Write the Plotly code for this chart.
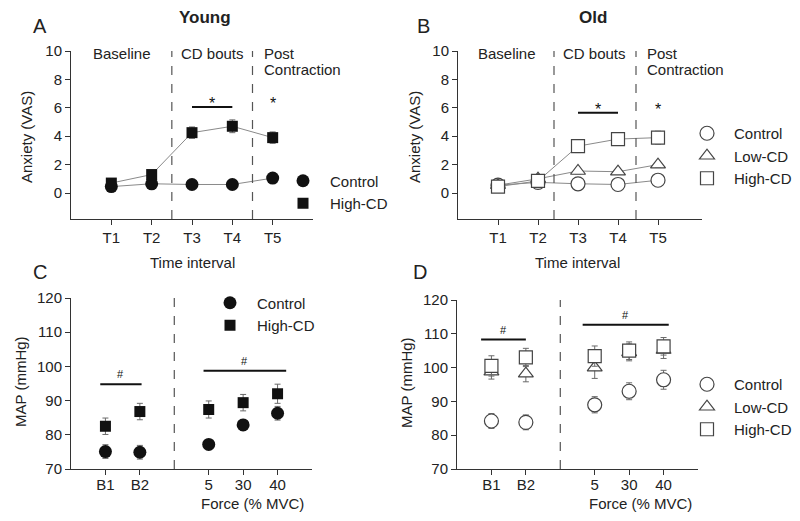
import plotly.graph_objects as go

W, H = 800, 521
FONT = "Arial, Liberation Sans, sans-serif"
INK = "#222222"
GREY_LINE = "#8a8a8a"
ERR = "#6a6a6a"

# ---- Panel A: Young, anxiety ----
T_LABELS = ["T1", "T2", "T3", "T4", "T5"]
T_POS = [1, 2, 3, 4, 5]
young_control = [0.45, 0.65, 0.6, 0.6, 1.05]
young_control_err = [0.15, 0.15, 0.12, 0.12, 0.15]
young_high = [0.7, 1.3, 4.25, 4.7, 3.9]
young_high_err = [0.2, 0.2, 0.4, 0.45, 0.4]

# ---- Panel B: Old, anxiety ----
old_control = [0.55, 0.75, 0.65, 0.6, 0.9]
old_control_err = [0.15, 0.15, 0.12, 0.12, 0.15]
old_low = [0.55, 1.0, 1.55, 1.5, 2.0]
old_low_err = [0.15, 0.2, 0.2, 0.2, 0.2]
old_high = [0.45, 0.85, 3.3, 3.8, 3.9]
old_high_err = [0.15, 0.2, 0.45, 0.35, 0.45]

# ---- Panel C: Young, MAP ----
F_LABELS = ["B1", "B2", "5", "30", "40"]
F_POS = [1, 2, 4, 5, 6]
map_young_control = [75.1, 74.9, 77.2, 82.9, 86.3]
map_young_control_err = [2.0, 2.0, 1.2, 1.6, 2.0]
map_young_high = [82.5, 86.8, 87.4, 89.4, 92.0]
map_young_high_err = [2.4, 2.4, 2.5, 2.4, 2.8]

# ---- Panel D: Old, MAP ----
map_old_control = [84.2, 83.8, 89.0, 93.0, 96.4]
map_old_control_err = [2.2, 2.2, 2.4, 2.5, 2.8]
map_old_low = [98.8, 98.2, 100.0, 104.5, 105.2]
map_old_low_err = [2.2, 2.4, 3.2, 2.5, 2.5]
map_old_high = [100.5, 103.0, 103.4, 105.0, 106.3]
map_old_high_err = [3.0, 2.7, 3.0, 2.6, 2.6]

# significance bars: (x0, x1, y, symbol)
SIG_A = [(3, 4, 6.05, "*")]
SIG_B = [(3, 4, 5.65, "*")]
SIG_C = [(0.85, 2.05, 94.8, "#"), (3.85, 6.25, 98.7, "#")]
SIG_D = [(0.7, 2.0, 108.3, "#"), (3.65, 6.15, 112.7, "#")]
STAR_T5 = [(5, "*")]


def px(x):
    return x / W


def py(y):
    return 1 - y / H


fig = go.Figure()

# panel geometry in pixels: (left, right, top, bottom)
PANELS = {
    "": (71, 313, 51, 219),
    "2": (458, 702, 51, 219),
    "3": (71, 312, 298, 469),
    "4": (457, 698, 300, 469),
}


def add_series(xs, ys, err, ax, symbol, size, filled, name, legend, line=True):
    if line:
        fig.add_trace(go.Scatter(
            x=xs, y=ys, mode="lines", xaxis="x" + ax, yaxis="y" + ax,
            line=dict(color=GREY_LINE, width=1), showlegend=False, hoverinfo="skip",
        ))
    fig.add_trace(go.Scatter(
        x=xs, y=ys, mode="markers", name=name, legend=legend,
        xaxis="x" + ax, yaxis="y" + ax,
        error_y=dict(type="data", array=err, color=ERR, thickness=1, width=3),
        marker=dict(
            symbol=symbol, size=size,
            color="#111111" if filled else "white",
            line=dict(color="#111111" if filled else "#444444", width=0 if filled else 1.2),
        ),
    ))


add_series(T_POS, young_control, young_control_err, "", "circle", 13, True, "Control", "legend")
add_series(T_POS, young_high, young_high_err, "", "square", 11, True, "High-CD", "legend")

add_series(T_POS, old_control, old_control_err, "2", "circle", 14, False, "Control", "legend2")
add_series(T_POS, old_low, old_low_err, "2", "triangle-up", 13, False, "Low-CD", "legend2")
add_series(T_POS, old_high, old_high_err, "2", "square", 13, False, "High-CD", "legend2")

add_series(F_POS, map_young_control, map_young_control_err, "3", "circle", 13, True, "Control", "legend3", line=False)
add_series(F_POS, map_young_high, map_young_high_err, "3", "square", 11, True, "High-CD", "legend3", line=False)

add_series(F_POS, map_old_control, map_old_control_err, "4", "circle", 14, False, "Control", "legend4", line=False)
add_series(F_POS, map_old_low, map_old_low_err, "4", "triangle-up", 13, False, "Low-CD", "legend4", line=False)
add_series(F_POS, map_old_high, map_old_high_err, "4", "square", 13, False, "High-CD", "legend4", line=False)

axis_style = dict(
    showline=True, linecolor="#333333", linewidth=1, ticks="outside", ticklen=5,
    tickcolor="#333333", showgrid=False, zeroline=False,
    tickfont=dict(family=FONT, size=15, color=INK),
)

layout = dict(
    width=W, height=H, margin=dict(l=0, r=0, t=0, b=0, autoexpand=False),
    paper_bgcolor="white", plot_bgcolor="white",
    font=dict(family=FONT, size=15, color=INK),
)

x_ranges = {"": [0, 6], "2": [0, 6.1], "3": [0, 7], "4": [0, 7]}
y_ranges = {"": [-1.83, 10], "2": [-1.83, 10], "3": [70, 120], "4": [70, 120]}
for ax, (l, r, t, b) in PANELS.items():
    xkey = "xaxis" + ax
    ykey = "yaxis" + ax
    if ax in ("", "2"):
        tv, tt = T_POS, T_LABELS
        ytv = [0, 2, 4, 6, 8, 10]
        standoff = 0
    else:
        tv, tt = F_POS, F_LABELS
        ytv = [70, 80, 90, 100, 110, 120]
        standoff = -3
    layout[xkey] = dict(axis_style, domain=[px(l), px(r)], range=x_ranges[ax],
                        tickvals=tv, ticktext=tt, anchor="y" + ax, ticklabelstandoff=standoff)
    layout[ykey] = dict(axis_style, domain=[py(b), py(t)], range=y_ranges[ax],
                        tickvals=ytv, anchor="x" + ax)

legend_base = dict(
    bgcolor="rgba(0,0,0,0)", font=dict(family=FONT, size=15, color=INK),
    xanchor="left", yanchor="top", itemwidth=44, tracegroupgap=0,
)
layout["legend"] = dict(legend_base, x=px(276), y=py(164.5))
layout["legend2"] = dict(legend_base, x=px(680), y=py(117))
layout["legend3"] = dict(legend_base, x=px(203), y=py(286.5))
layout["legend4"] = dict(legend_base, x=px(680), y=py(368))

fig.update_layout(**layout)

shapes = []
annotations = []

# phase dividers
DIVIDERS = {"": [2.5, 4.5], "2": [2.4, 4.45], "3": [3], "4": [3]}
for ax, xs in DIVIDERS.items():
    for xv in xs:
        shapes.append(dict(type="line", xref="x" + ax, yref=("y" + ax) + " domain",
                           x0=xv, x1=xv, y0=0, y1=1,
                           line=dict(color="#555555", width=1.2, dash="dash")))

for ax, bars in (("", SIG_A), ("2", SIG_B), ("3", SIG_C), ("4", SIG_D)):
    for x0, x1, yv, sym in bars:
        shapes.append(dict(type="line", xref="x" + ax, yref="y" + ax,
                           x0=x0, x1=x1, y0=yv, y1=yv, line=dict(color="#111111", width=2)))
        annotations.append(dict(xref="x" + ax, yref="y" + ax, x=(x0 + x1) / 2, y=yv,
                                text=sym, showarrow=False, yanchor="bottom", yshift=-7 if sym == "*" else 2,
                                font=dict(size=16 if sym == "*" else 11, color="#111111")))
for ax, yv in (("", 6.05), ("2", 5.65)):
    for xv, sym in STAR_T5:
        annotations.append(dict(xref="x" + ax, yref="y" + ax, x=xv, y=yv, text=sym,
                                showarrow=False, yanchor="bottom", yshift=-7,
                                font=dict(size=16, color="#111111")))


def label(text, x, y, size=15, anchor="center", bold=False, angle=0):
    annotations.append(dict(
        xref="paper", yref="paper", x=px(x), y=py(y), text=f"<b>{text}</b>" if bold else text,
        showarrow=False, xanchor=anchor, yanchor="middle", textangle=angle,
        font=dict(family=FONT, size=size, color=INK),
    ))


label("Young", 205, 18, 17, bold=True)
label("Old", 593, 18, 17, bold=True)
label("A", 40, 26, 20)
label("B", 423, 26, 20)
label("C", 40, 272, 20)
label("D", 420, 272, 20)

for off in (0, 387):
    label("Baseline", 122 + off - (2 if off else 0), 53)
    label("CD bouts", 212 + off - (5 if off else 0), 53)
    label("Post", 262 + off - (4 if off else 0), 53, anchor="left")
    label("Contraction", 262 + off - (4 if off else 0), 70, anchor="left")

label("Anxiety (VAS)", 27, 137, angle=-90)
label("Anxiety (VAS)", 415, 137, angle=-90)
label("MAP (mmHg)", 20, 382, angle=-90)
label("MAP (mmHg)", 406, 382, angle=-90)
label("Time interval", 192, 262)
label("Time interval", 577, 262)
label("Force (% MVC)", 253, 503)
label("Force (% MVC)", 640, 503)

fig.update_layout(shapes=shapes, annotations=annotations)
fig.write_html("out.html", config={"displayModeBar": False},
               post_script="document.body.style.margin='0';")
